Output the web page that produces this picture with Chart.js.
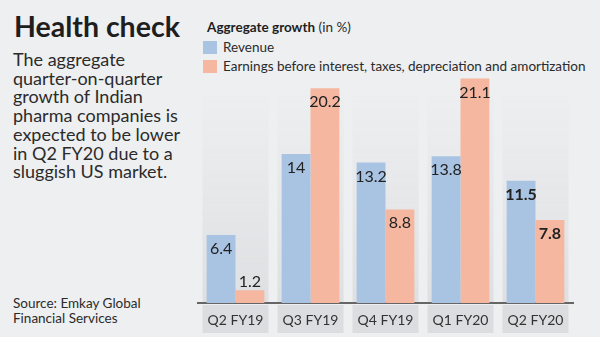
<!DOCTYPE html>
<html>
<head>
<meta charset="utf-8">
<script src="https://cdn.jsdelivr.net/npm/chart.js@4"></script>
<style>
  html, body { margin: 0; padding: 0; }
  body { width: 600px; height: 337px; background: #eeeff1; position: relative; overflow: hidden; font-family: Lato, sans-serif; color: #2b2b2b; }
  .abs { position: absolute; white-space: nowrap; }
  #titulo { left: 14px; top: 8px; font-size: 28.5px; font-weight: 700; line-height: 36px; color: #1e1e1e; }
  #texto { left: 13px; top: 50px; font-size: 18px; line-height: 18.7px; }
  #fonte { left: 13px; top: 296px; font-size: 13.5px; line-height: 15px; }
  #leg_titulo { left: 207px; top: 19px; font-size: 13.5px; line-height: 16px; }
  #leg_titulo b { font-weight: 700; color: #1e1e1e; }
  .leg_item { left: 203px; font-size: 13.5px; line-height: 16px; }
  .leg_item span { display: inline-block; width: 14px; height: 13px; vertical-align: -2px; margin-right: 6px; }
  #grafico { position: absolute; left: 195px; top: 60px; }
</style>
</head>
<body>
<div id="titulo" class="abs">Health check</div>
<div id="texto" class="abs">The aggregate<br>quarter-on-quarter<br>growth of Indian<br>pharma companies is<br>expected to be lower<br>in Q2 FY20 due to a<br>sluggish US market.</div>
<div id="fonte" class="abs">Source: Emkay Global<br>Financial Services</div>
<div id="leg_titulo" class="abs"><b>Aggregate growth</b> (in %)</div>
<div class="abs leg_item" style="top:39px"><span style="background:#a9c4e2"></span>Revenue</div>
<div class="abs leg_item" style="top:58px"><span style="background:#f5b7a0"></span>Earnings before interest, taxes, depreciation and amortization</div>
<canvas id="grafico" width="405" height="277"></canvas>
<script>
const grafico = document.querySelector("#grafico")

const trimestres = ['Q2 FY19', 'Q3 FY19', 'Q4 FY19', 'Q1 FY20', 'Q2 FY20']
const receita = [6.4, 14, 13.2, 13.8, 11.5]
const ebitda = [1.2, 20.2, 8.8, 21.1, 7.8]

const cor_receita = '#a9c4e2'
const cor_ebitda = '#f5b7a0'

// colunas cinza atras de cada trimestre
const colunas = {
    id: 'colunas',
    beforeDraw(chart) {
        const ctx = chart.ctx
        const x = chart.scales.x
        const base = chart.chartArea.bottom
        const grad = ctx.createLinearGradient(0, 30, 0, base)
        grad.addColorStop(0, 'rgba(224,225,228,0)')
        grad.addColorStop(1, 'rgba(222,223,226,1)')
        ctx.save()
        for (let i = 0; i < trimestres.length; i++) {
            const cx = x.getPixelForValue(i)
            ctx.fillStyle = grad
            ctx.fillRect(cx - 33, 30, 66, base - 30)
            ctx.fillStyle = '#dcdde0'
            ctx.fillRect(cx - 33, base + 2, 66, 28)
        }
        ctx.restore()
    }
}

// valores escritos no topo das barras
const rotulos = {
    id: 'rotulos',
    afterDatasetsDraw(chart) {
        const ctx = chart.ctx
        ctx.save()
        ctx.textAlign = 'center'
        ctx.textBaseline = 'alphabetic'
        ctx.fillStyle = '#222'
        chart.data.datasets.forEach((ds, d) => {
            chart.getDatasetMeta(d).data.forEach((bar, i) => {
                const destaque = i === trimestres.length - 1
                ctx.font = (destaque ? 'bold ' : '') + '16px Lato'
                const altura = bar.base - bar.y
                const y = altura > 25 ? bar.y + 19 : bar.y - 3
                ctx.fillText(String(ds.data[i]), bar.x, y)
            })
        })
        ctx.restore()
    }
}

const data = {
    labels: trimestres,
    datasets: [
        {
            label: 'Revenue',
            data: receita,
            backgroundColor: cor_receita,
        },
        {
            label: 'Earnings before interest, taxes, depreciation and amortization',
            data: ebitda,
            backgroundColor: cor_ebitda,
        },
    ]
}

const config = {
    type: 'bar',
    data: data,
    options: {
        responsive: false,
        animation: false,
        layout: { padding: { left: 3, right: 27, top: 9, bottom: 0 } },
        datasets: { bar: { categoryPercentage: 0.77, barPercentage: 1.0, borderWidth: 0 } },
        plugins: { legend: { display: false }, tooltip: { enabled: false } },
        scales: {
            y: { display: false, min: 0, max: 22 },
            x: {
                grid: { display: false, drawTicks: false },
                border: { display: true, color: '#666', width: 2 },
                ticks: { color: '#333', font: { family: 'Lato', size: 14 }, padding: 9 },
                afterFit(scale) { scale.height = 34 }
            }
        }
    },
    plugins: [colunas, rotulos]
}

const graficoGeral = new Chart(
    grafico,
    config,
)
</script>
</body>
</html>
